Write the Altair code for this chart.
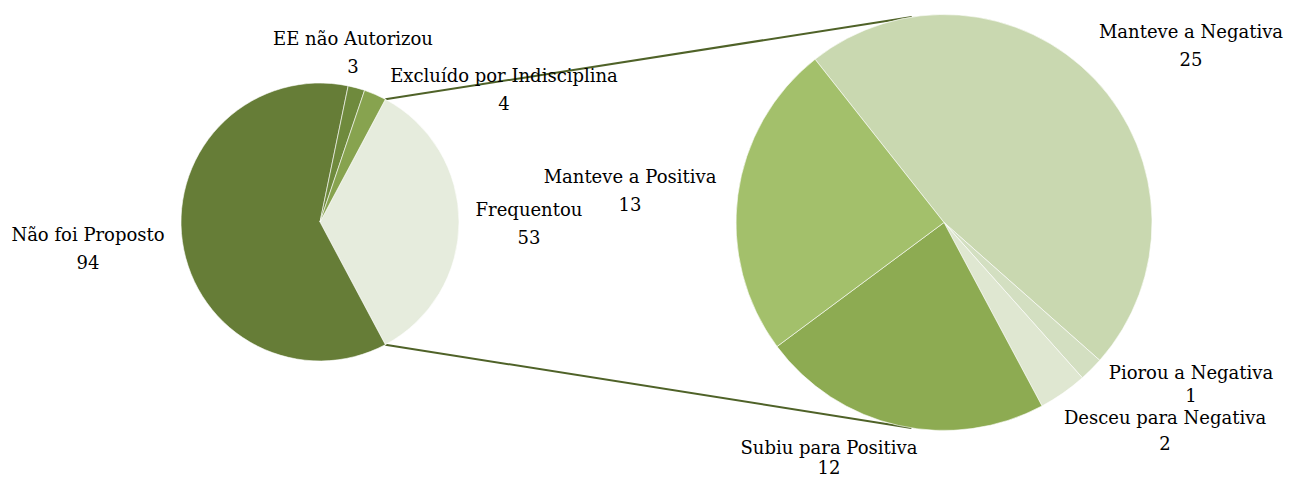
import math
import altair as alt
import pandas as pd

# ---- data ----
main_labels = ["Frequentou", "Não foi Proposto", "EE não Autorizou", "Excluído por Indisciplina"]
main_values = [53, 94, 3, 4]
main_colors = ["#e6ecdd", "#667d37", "#6f8a3d", "#87a34f"]

sub_labels = ["Manteve a Negativa", "Piorou a Negativa", "Desceu para Negativa",
              "Subiu para Positiva", "Manteve a Positiva"]
sub_values = [25, 1, 2, 12, 13]
sub_colors = ["#c9d8b0", "#d3dfc1", "#dfe7d1", "#8dab52", "#a3c06b"]

# ---- layout (chart pixel coordinates) ----
W, H = 1277, 469
L_CX, L_CY, L_R = 312, 214, 139
R_CX, R_CY, R_R = 936, 214.5, 208

# label centres: (name x, name y, value y)
main_label_pos = [(521, 203, 231), (80, 228, 256), (345, 32, 60), (496, 69, 97)]
sub_label_pos = [(1183, 25, 53), (1183, 366, 389), (1157, 411, 437),
                 (821, 441, 461), (622, 170, 198)]

tau = 2 * math.pi
main_total = sum(main_values)
main_span = main_values[0] / main_total * tau
main_start = math.pi / 2 - main_span / 2          # "Frequentou" centred on the right
sub_start = math.radians(321.7)


def pt(cx, cy, r, ang):
    return cx + r * math.sin(ang), cy - r * math.cos(ang)


# connector lines from split slice edges to top/bottom of secondary pie
p1 = pt(L_CX, L_CY, L_R, main_start)
p2 = pt(L_CX, L_CY, L_R, main_start + main_span)
q1 = pt(R_CX, R_CY, R_R, math.radians(-8.9))
q2 = pt(R_CX, R_CY, R_R, math.radians(189.0))
lines = pd.DataFrame({
    "x": [p1[0], p2[0]], "y": [p1[1], p2[1]],
    "x2": [q1[0], q2[0]], "y2": [q1[1], q2[1]],
})

main_df = pd.DataFrame({"label": main_labels, "value": main_values,
                        "color": main_colors, "order": list(range(len(main_labels)))})
sub_df = pd.DataFrame({"label": sub_labels, "value": sub_values,
                       "color": sub_colors, "order": list(range(len(sub_labels)))})

rows = []
for lab, val, (x, y, vy) in zip(main_labels + sub_labels, main_values + sub_values,
                                main_label_pos + sub_label_pos):
    rows.append({"x": x, "y": y, "text": lab})
    rows.append({"x": x, "y": vy, "text": str(val)})
labels_df = pd.DataFrame(rows)

main_pie = alt.Chart(main_df).mark_arc(outerRadius=L_R, stroke="white", strokeWidth=0.6).encode(
    theta=alt.Theta("value:Q", stack=True,
                    scale=alt.Scale(range=[main_start, main_start + tau])),
    order=alt.Order("order:Q"),
    color=alt.Color("color:N", scale=None),
    x=alt.value(L_CX), y=alt.value(L_CY),
)

sub_pie = alt.Chart(sub_df).mark_arc(outerRadius=R_R, stroke="white", strokeWidth=0.6).encode(
    theta=alt.Theta("value:Q", stack=True,
                    scale=alt.Scale(range=[sub_start, sub_start + tau])),
    order=alt.Order("order:Q"),
    color=alt.Color("color:N", scale=None),
    x=alt.value(R_CX), y=alt.value(R_CY),
)

connectors = alt.Chart(lines).mark_rule(color="#4f6228", strokeWidth=2).encode(
    x=alt.X("x:Q", scale=None, axis=None),
    y=alt.Y("y:Q", scale=None, axis=None),
    x2="x2:Q", y2="y2:Q",
)

texts = alt.Chart(labels_df).mark_text(
    font="DejaVu Serif", fontSize=18, color="#000000", align="center", baseline="middle"
).encode(
    x=alt.X("x:Q", scale=None, axis=None),
    y=alt.Y("y:Q", scale=None, axis=None),
    text="text:N",
)

chart = alt.layer(connectors, main_pie, sub_pie, texts).resolve_scale(
    theta="independent"
).properties(
    width=W, height=H, padding=0,
    autosize=alt.AutoSizeParams(type="none"),
).configure_view(stroke=None)

chart.save("out.html", embed_options={"renderer": "svg", "actions": False})
